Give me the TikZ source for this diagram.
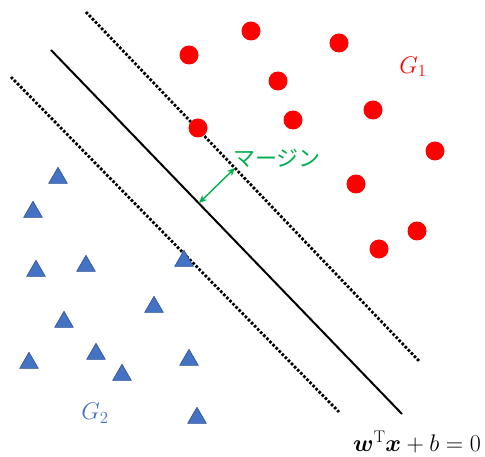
\RequirePackage{fix-cm}
\documentclass[tikz,border=0pt]{standalone}
\usepackage{amsmath}
\usepackage{fontspec}
\usepackage{tikz}
\usetikzlibrary{shapes.geometric, arrows.meta, positioning}
\newfontfamily\jpfont{Noto Sans CJK JP}
\definecolor{ptred}{RGB}{255,0,0}
\definecolor{ptblue}{RGB}{68,114,196}
\definecolor{ptblueline}{RGB}{47,82,143}
\definecolor{mygreen}{RGB}{0,176,80}
\tikzset{
  redpt/.style={circle, fill=ptred, inner sep=0pt, minimum size=19pt},
  bluept/.style={regular polygon, regular polygon sides=3, fill=ptblue,
    draw=ptblueline, line width=0.6pt, inner sep=0pt, minimum size=21.5pt},
  marginline/.style={line width=2.8pt, dash pattern=on 2.6pt off 1.8pt},
  hyperline/.style={line width=2pt},
  marginarrow/.style={{Stealth[length=8pt, width=7pt]}-{Stealth[length=8pt, width=7pt]},
    line width=1.4pt, color=mygreen},
  biglabel/.style={font=\fontsize{24}{26}\selectfont}
}
\begin{document}
\begin{tikzpicture}[x=1pt, y=-1pt]
  \useasboundingbox (0,0) rectangle (485,457);
  % Hyperplane and margin boundaries
  \coordinate (up1) at (86,12);   \coordinate (up2) at (419,361);
  \coordinate (hp1) at (51,50);   \coordinate (hp2) at (402,414);
  \coordinate (lo1) at (11,77);   \coordinate (lo2) at (339,412);
  \draw[marginline] (up1) -- (up2);
  \draw[hyperline] (hp1) -- (hp2);
  \draw[marginline] (lo1) -- (lo2);
  % Group G1
  \foreach \x/\y [count=\i] in {189/55, 251/31, 339/43, 278/81, 198/128, 293/120,
      373/110, 435/151, 356/184, 417/231, 379/249}
    \node[redpt] (r\i) at (\x,\y) {};
  \node[biglabel, color=ptred] (g1) at (413,67) {$G_1$};
  % Group G2
  \foreach \x/\y [count=\i] in {58/178, 33/212, 36/271, 86/266, 184/261, 154/307,
      64/322, 96/354, 29/363, 122/375, 189/360, 197/418}
    \node[bluept] (b\i) at (\x,\y) {};
  \node[biglabel, color=ptblue] (g2) at (95,413) {$G_2$};
  % Margin
  \coordinate (m1) at (199,203);
  \coordinate (m2) at (235,168);
  \draw[marginarrow] (m1) -- (m2);
  \node[font=\jpfont\fontsize{22}{24}\selectfont, color=mygreen] (mg) at (277,158) {マージン};
  % Equation
  \node[biglabel] (eq) at (417,442)
    {$\boldsymbol{w}^{\mathrm{T}}\boldsymbol{x}+b=0$};
\end{tikzpicture}
\end{document}
